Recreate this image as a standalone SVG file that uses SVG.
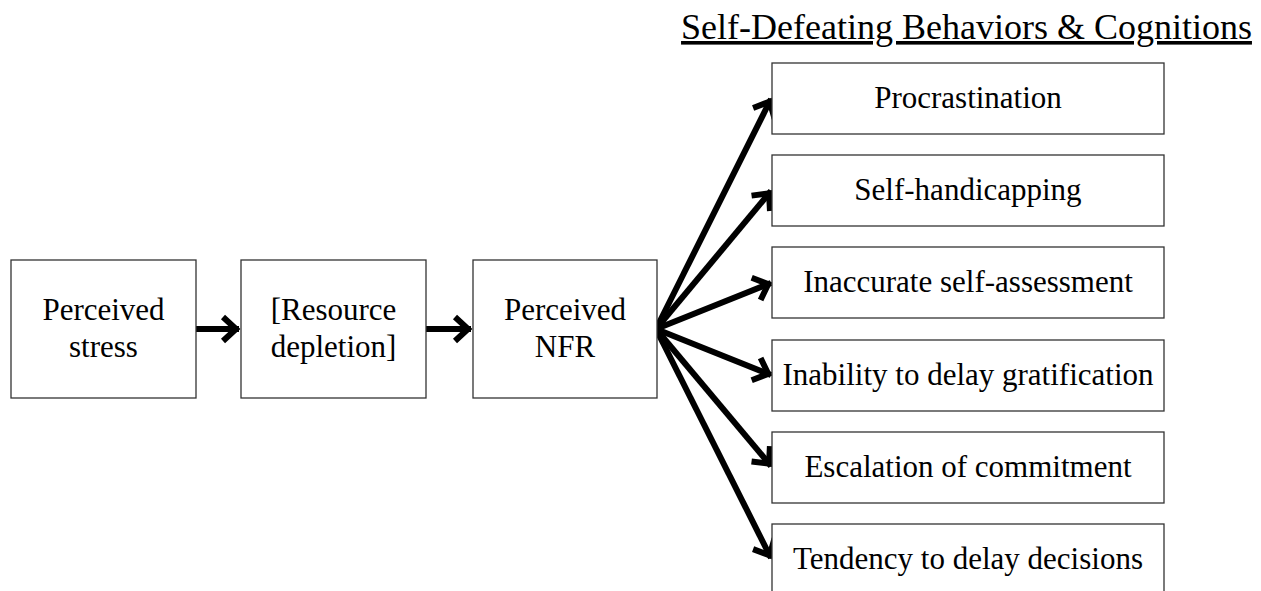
<svg xmlns="http://www.w3.org/2000/svg" width="1261" height="591" viewBox="0 0 1261 591">
<style>
  .box { fill: #ffffff; stroke: #333333; stroke-width: 1.3; }
  .t { font-family: "Liberation Serif", "Times New Roman", serif; font-size: 31px; fill: #000000; text-anchor: middle; }
  .title { font-family: "Liberation Serif", "Times New Roman", serif; font-size: 36px; fill: #000000; text-anchor: middle; text-decoration: underline; }
  .conn { stroke: #000000; stroke-width: 6; fill: none; }
</style>
<defs>
  <marker id="ah" markerUnits="userSpaceOnUse" markerWidth="40" markerHeight="40" viewBox="-20 -20 40 40" refX="0" refY="0" orient="auto" overflow="visible">
    <path d="M-16,-12 L-3,0 L-16,12" fill="none" stroke="#000" stroke-width="6" stroke-linejoin="miter" stroke-miterlimit="10"/>
  </marker>
</defs>
<rect width="1261" height="591" fill="#ffffff"/>

<text id="title" class="title" x="966.5" y="39">Self-Defeating Behaviors &amp; Cognitions</text>

<g id="connectors">
  <line class="conn" x1="196" y1="329" x2="239" y2="329" marker-end="url(#ah)"/>
  <line class="conn" x1="426" y1="329" x2="471" y2="329" marker-end="url(#ah)"/>
  <line class="conn" x1="656" y1="329" x2="771" y2="99" marker-end="url(#ah)"/>
  <line class="conn" x1="656" y1="329" x2="771" y2="191" marker-end="url(#ah)"/>
  <line class="conn" x1="656" y1="329" x2="771" y2="283" marker-end="url(#ah)"/>
  <line class="conn" x1="656" y1="329" x2="771" y2="375" marker-end="url(#ah)"/>
  <line class="conn" x1="656" y1="329" x2="771" y2="466" marker-end="url(#ah)"/>
  <line class="conn" x1="656" y1="329" x2="771" y2="558" marker-end="url(#ah)"/>
</g>

<g id="n-stress">
  <rect class="box" x="11" y="260" width="185" height="138"/>
  <text class="t" x="103.5" y="320">Perceived</text>
  <text class="t" x="103.5" y="357">stress</text>
</g>
<g id="n-depletion">
  <rect class="box" x="241" y="260" width="185" height="138"/>
  <text class="t" x="333.5" y="320">[Resource</text>
  <text class="t" x="333.5" y="357">depletion]</text>
</g>
<g id="n-nfr">
  <rect class="box" x="473" y="260" width="184" height="138"/>
  <text class="t" x="565" y="320">Perceived</text>
  <text class="t" x="565" y="357">NFR</text>
</g>

<g id="n-procrastination">
  <rect class="box" x="772" y="63" width="392" height="71"/>
  <text class="t" x="968" y="108">Procrastination</text>
</g>
<g id="n-selfhandicapping">
  <rect class="box" x="772" y="155" width="392" height="71"/>
  <text class="t" x="968" y="200">Self-handicapping</text>
</g>
<g id="n-inaccurate">
  <rect class="box" x="772" y="247" width="392" height="71"/>
  <text class="t" x="968" y="292">Inaccurate self-assessment</text>
</g>
<g id="n-inability">
  <rect class="box" x="772" y="340" width="392" height="71"/>
  <text class="t" x="968" y="385">Inability to delay gratification</text>
</g>
<g id="n-escalation">
  <rect class="box" x="772" y="432" width="392" height="71"/>
  <text class="t" x="968" y="477">Escalation of commitment</text>
</g>
<g id="n-tendency">
  <rect class="box" x="772" y="524" width="392" height="71"/>
  <text class="t" x="968" y="569">Tendency to delay decisions</text>
</g>
</svg>
